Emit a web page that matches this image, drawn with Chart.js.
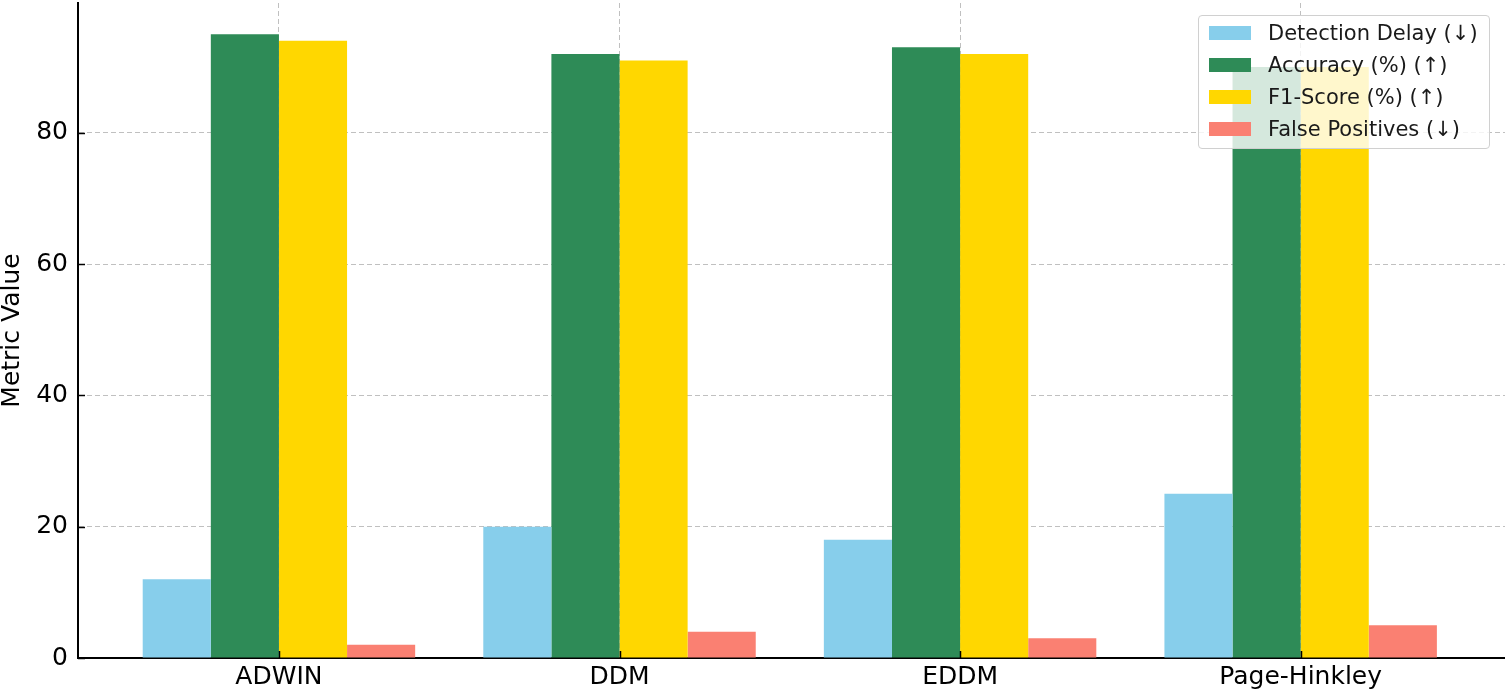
<!DOCTYPE html>
<html>
<head>
<meta charset="utf-8">
<script src="https://cdn.jsdelivr.net/npm/chart.js@4.4.1/dist/chart.umd.min.js"></script>
<style>
    html, body { margin: 0; padding: 0; background: #fff; }
    #wrap { position: relative; width: 1505px; height: 693px; }
    #legend {
        position: absolute; left: 1198px; top: 15px; width: 290px; height: 132px;
        border: 1px solid #d0d0d0; border-radius: 4px; background: rgba(255,255,255,0.8);
        font-family: 'DejaVu Sans', sans-serif; font-size: 21px; color: #1a1a1a;
    }
    .item { position: absolute; left: 0; height: 24px; line-height: 24px; white-space: nowrap; }
    .swatch { position: absolute; left: 10px; top: 5px; width: 42px; height: 14px; }
    .label { position: absolute; left: 69px; top: 0; }
</style>
</head>
<body>
<div id="wrap">
    <canvas id="myChart1" width="1505" height="693"></canvas>
    <div id="legend"></div>
</div>
<script>
// data
const categories = ['ADWIN', 'DDM', 'EDDM', 'Page-Hinkley'];
const detectionDelay = [12, 20, 18, 25];
const accuracy = [95, 92, 93, 90];
const f1Score = [94, 91, 92, 90];
const falsePositives = [2, 4, 3, 5];
const yTicks = [0, 20, 40, 60, 80];

const seriesNames = ['Detection Delay (↓)', 'Accuracy (%) (↑)', 'F1-Score (%) (↑)', 'False Positives (↓)'];
const seriesColors = ['#87CEEB', '#2E8B57', '#FFD700', '#FA8072'];
const seriesValues = [detectionDelay, accuracy, f1Score, falsePositives];

const FONT = "'DejaVu Sans', sans-serif";

// small ticks pointing inward, like the original
const innerTicks = {
    id: 'innerTicks',
    afterDraw(chart) {
        const {ctx, chartArea, scales} = chart;
        ctx.save();
        ctx.strokeStyle = '#000';
        ctx.lineWidth = 1.5;
        scales.y.ticks.forEach(t => {
            const py = Math.round(scales.y.getPixelForValue(t.value)) + 0.5;
            ctx.beginPath();
            ctx.moveTo(chartArea.left, py);
            ctx.lineTo(chartArea.left + 7, py);
            ctx.stroke();
        });
        scales.x.ticks.forEach(t => {
            const px = Math.round(scales.x.getPixelForValue(t.value)) + 0.5;
            ctx.beginPath();
            ctx.moveTo(px, chartArea.bottom);
            ctx.lineTo(px, chartArea.bottom - 7);
            ctx.stroke();
        });
        ctx.restore();
    }
};

let myChart1;
document.addEventListener('DOMContentLoaded', function() {
    const ctx = document.getElementById('myChart1').getContext('2d');
    myChart1 = new Chart(ctx, {
        type: 'bar',
        data: {
            datasets: seriesNames.map((name, k) => ({
                label: name,
                data: seriesValues[k].map((v, i) => ({x: i, y: v})),
                backgroundColor: seriesColors[k],
                borderWidth: 0,
                categoryPercentage: 0.8,
                barPercentage: 1.0,
            }))
        },
        options: {
            responsive: false,
            animation: false,
            layout: { padding: { top: 3, right: 0, left: 0, bottom: 0 } },
            scales: {
                x: {
                    type: 'linear',
                    min: -0.59,
                    max: 3.60,
                    offset: false,
                    z: 1,
                    afterBuildTicks: s => { s.ticks = categories.map((c, i) => ({value: i})); },
                    afterFit: s => { s.height = 35; s.paddingLeft = 0; s.paddingRight = 0; },
                    ticks: {
                        callback: v => categories[v] ?? '',
                        font: { family: FONT, size: 25 },
                        color: '#000',
                        padding: 4,
                        maxRotation: 0,
                        autoSkip: false,
                    },
                    grid: {
                        offset: false,
                        color: 'rgba(176,176,176,0.8)',
                        lineWidth: 1,
                        drawTicks: false,
                        tickLength: 0,
                    },
                    border: { display: true, color: '#000', width: 2, dash: [5, 3] },
                },
                y: {
                    min: 0,
                    max: 99.75,
                    z: 1,
                    afterBuildTicks: s => { s.ticks = yTicks.map(v => ({value: v})); },
                    afterFit: s => { s.width = 78; s.paddingTop = 0; s.paddingBottom = 0; },
                    ticks: {
                        font: { family: FONT, size: 25 },
                        color: '#000',
                        padding: 10,
                    },
                    grid: {
                        color: 'rgba(176,176,176,0.8)',
                        lineWidth: 1,
                        drawTicks: false,
                        tickLength: 0,
                    },
                    border: { display: true, color: '#000', width: 2, dash: [5, 3] },
                    title: {
                        display: true,
                        text: 'Metric Value',
                        font: { family: FONT, size: 25, lineHeight: 1 },
                        color: '#000',
                        padding: 0,
                    }
                }
            },
            plugins: {
                legend: { display: false },
                tooltip: { enabled: false }
            }
        },
        plugins: [innerTicks]
    });

    // legend box drawn as html on top of the plot
    const legend = document.getElementById('legend');
    seriesNames.forEach((name, k) => {
        const item = document.createElement('div');
        item.className = 'item';
        item.style.top = (5 + k * 32) + 'px';
        item.innerHTML = '<span class="swatch" style="background:' + seriesColors[k] + '"></span>' +
            '<span class="label">' + name + '</span>';
        legend.appendChild(item);
    });
});
</script>
</body>
</html>
